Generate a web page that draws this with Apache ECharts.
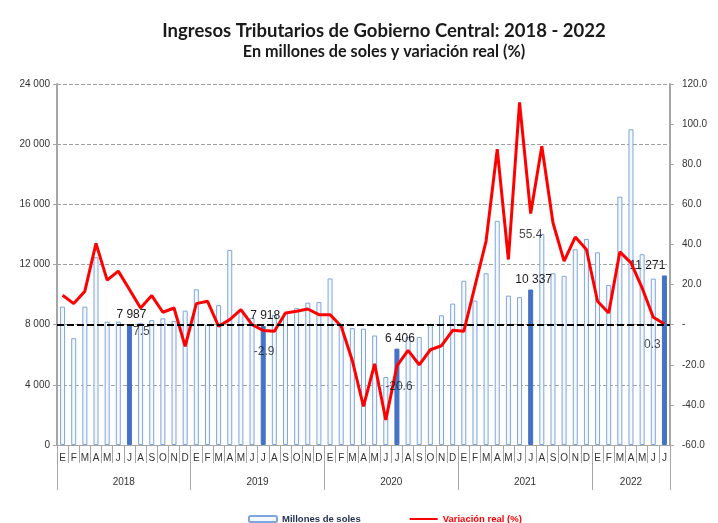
<!DOCTYPE html>
<html>
<head>
<meta charset="utf-8">
<script src="https://cdn.jsdelivr.net/npm/echarts@6/dist/echarts.min.js"></script>
<style>
html,body{margin:0;padding:0;background:#fff;}
#chart{width:718px;height:523px;}
</style>
</head>
<body>
<div id="chart"></div>
<script>
const monthLetters = ['E','F','M','A','M','J','J','A','S','O','N','D'];
const years = ['2018','2019','2020','2021','2022'];
const monthsPerYear = [12, 12, 12, 12, 7];

// Millones de soles
const revenue = [
  9200, 7100, 9200, 12480, 8200, 8200, 7987, 8100, 8300, 8420, 8250, 8930,
  10350, 8000, 9300, 12970, 8980, 8450, 7918, 8650, 8780, 9100, 9460, 9500,
  11070, 7950, 7770, 7730, 7280, 4520, 6406, 7180, 7180, 8050, 8620, 9400,
  10920, 9600, 11420, 14900, 9930, 9830, 10337, 14030, 11420, 11240, 13010, 13700,
  12810, 10640, 16510, 20990, 12680, 11060, 11271
];

// Variación real (%)
const variation = [
  14.7, 10.5, 16.7, 40.5, 22.2, 26.7, 17.5, 8.3, 14.5, 6.2, 8.3, -10.8,
  10.5, 11.7, -0.8, 2.5, 7.5, 0.0, -2.9, -3.3, 5.8, 6.7, 7.8, 5.0,
  5.0, -0.8, -18.0, -40.8, -19.5, -47.5, -20.6, -12.8, -20.0, -12.5, -10.5, -2.8,
  -3.3, 19.2, 41.7, 87.5, 32.5, 110.8, 55.4, 89.0, 50.8, 31.7, 43.7, 37.5,
  11.7, 5.8, 36.3, 30.8, 18.3, 3.7, 0.3
];

const highlightIdx = [6, 18, 30, 42, 54];
const variationLabelText = ['7.5', '-2.9', '-20.6', '55.4', '0.3'];
const variationLabelOffset = [[12, 21], [1, 0], [2, 0], [0, 0], [-12, 0]];
const barLabelOffset = [[2, 0], [2, 0], [3, 0], [3, 0], [-17, 0]];
const referenceLevel = 8000;

const leftAxis = {min: 0, max: 24000, interval: 4000};
const rightAxis = {min: -60, max: 120, interval: 20};

// categories
const categories = [];
years.forEach((y, yi) => {
  for (let m = 0; m < monthsPerYear[yi]; m++) categories.push(y + '|' + m + '|' + monthLetters[m]);
});
const yearStart = [];
const yearLabelIdx = {};
let acc = 0;
years.forEach((y, yi) => {
  yearStart.push(acc);
  const n = monthsPerYear[yi];
  if (n % 2 === 0) yearLabelIdx[acc + n / 2 - 1] = {text: y, shift: true};
  else yearLabelIdx[acc + (n - 1) / 2] = {text: y, shift: false};
  acc += n;
});

const fmtThousands = v => String(Math.round(v)).replace(/\B(?=(\d{3})+(?!\d))/g, ' ');

const barData = revenue.map((v, i) => {
  const k = highlightIdx.indexOf(i);
  if (k < 0) return v;
  return {
    value: v,
    itemStyle: {color: '#4472C4', borderColor: '#4472C4'},
    label: {show: true, position: 'top', distance: 4, offset: barLabelOffset[k],
            formatter: p => fmtThousands(p.value),
            color: '#1a1a1a', fontSize: 12, fontFamily: 'Liberation Sans'}
  };
});

const labelPoints = highlightIdx.map((i, k) => ({
  value: [categories[i], variation[i]],
  label: {show: true, position: 'bottom', distance: 15, formatter: variationLabelText[k],
          offset: variationLabelOffset[k], color: '#1a1a1a', fontSize: 12, fontFamily: 'Liberation Sans'}
}));

const axisGray = '#A6A6A6';
const chart = echarts.init(document.getElementById('chart'), null, {renderer: 'canvas'});
chart.setOption({
  animation: false,
  backgroundColor: '#ffffff',
  title: [
    {text: 'Ingresos Tributarios de Gobierno Central: 2018 - 2022', left: 384, top: 22,
     textAlign: 'center', padding: 0,
     textStyle: {fontFamily: 'Lato', fontWeight: 'bold', fontSize: 18.5, color: '#1a1a1a'}},
    {text: 'En millones de soles y variación real (%)', left: 384, top: 44,
     textAlign: 'center', padding: 0,
     textStyle: {fontFamily: 'Lato', fontWeight: 'bold', fontSize: 16.2, color: '#1a1a1a'}}
  ],
  legend: {
    left: 243, top: 509, itemWidth: 28, itemHeight: 6, itemGap: 48,
    textStyle: {fontFamily: 'Liberation Sans', fontWeight: 'bold', fontSize: 9.5},
    data: [
      {name: 'Millones de soles', textStyle: {color: '#1F2D4F'}},
      {name: 'Variación real (%)', textStyle: {color: '#FF0000'},
       itemStyle: {color: 'rgba(0,0,0,0)', borderWidth: 0, borderColor: 'rgba(0,0,0,0)'}}
    ]
  },
  grid: {left: 57, right: 48, top: 84, bottom: 78, containLabel: false},
  xAxis: [
    {
      type: 'category', data: categories, position: 'bottom',
      axisLine: {onZero: false, lineStyle: {color: axisGray, width: 1}},
      axisTick: {show: true, length: 18, lineStyle: {color: axisGray}},
      axisLabel: {interval: 0, margin: 8, fontSize: 10, color: '#333',
                  fontFamily: 'Liberation Sans', formatter: v => v.split('|')[2]}
    },
    {
      type: 'category', data: categories, position: 'bottom',
      axisLine: {show: false, onZero: false},
      axisTick: {show: true, length: 45, interval: i => yearStart.indexOf(i) >= 0,
                 lineStyle: {color: axisGray}},
      axisLabel: {
        interval: i => !!yearLabelIdx[i], margin: 32, fontSize: 10, color: '#333',
        fontFamily: 'Liberation Sans',
        formatter: (v, i) => {
          const e = yearLabelIdx[i];
          if (!e) return '';
          return e.shift ? '{s|' + e.text + '}' : '{n|' + e.text + '}';
        },
        rich: {
          s: {padding: [0, 0, 0, 11], fontSize: 10, color: '#333', fontFamily: 'Liberation Sans'},
          n: {fontSize: 10, color: '#333', fontFamily: 'Liberation Sans'}
        }
      },
      splitLine: {show: false}
    }
  ],
  yAxis: [
    {
      type: 'value', position: 'left', min: leftAxis.min, max: leftAxis.max, interval: leftAxis.interval,
      axisLine: {show: true, lineStyle: {color: axisGray, width: 2}},
      axisTick: {show: true, length: 4, lineStyle: {color: axisGray}},
      axisLabel: {margin: 7, fontSize: 10, color: '#333', fontFamily: 'Liberation Sans',
                  formatter: v => fmtThousands(v)},
      splitLine: {show: true, lineStyle: {color: '#A0A0A0', type: [4, 2], width: 1}}
    },
    {
      type: 'value', position: 'right', min: rightAxis.min, max: rightAxis.max, interval: rightAxis.interval,
      axisLine: {show: true, lineStyle: {color: axisGray, width: 2}},
      axisTick: {show: true, length: 4, lineStyle: {color: axisGray}},
      axisLabel: {margin: 12, fontSize: 10, color: '#333', fontFamily: 'Liberation Sans',
                  formatter: v => (v === 0 ? '-' : v.toFixed(1))},
      splitLine: {show: false}
    }
  ],
  series: [
    {
      name: 'Millones de soles', type: 'bar', xAxisIndex: 0, yAxisIndex: 0,
      data: barData, barWidth: 5,
      itemStyle: {color: '#F5F8FD', borderColor: '#7EA6DE', borderWidth: 1},
      z: 2,
      markLine: {
        silent: true, symbol: 'none', z: 5,
        label: {show: false},
        lineStyle: {color: '#000000', type: [7, 3], width: 2},
        data: [{yAxis: referenceLevel}]
      }
    },
    {
      name: 'Variación real (%)', type: 'line', xAxisIndex: 0, yAxisIndex: 1,
      data: variation, showSymbol: false, symbol: 'none',
      lineStyle: {color: '#FF0000', width: 3},
      itemStyle: {color: '#FF0000'},
      z: 4
    },
    {
      name: 'labels', type: 'scatter', xAxisIndex: 0, yAxisIndex: 1,
      data: labelPoints, symbolSize: 0.1, itemStyle: {color: '#FF0000'},
      silent: true, z: 6
    }
  ]
});
</script>
</body>
</html>
